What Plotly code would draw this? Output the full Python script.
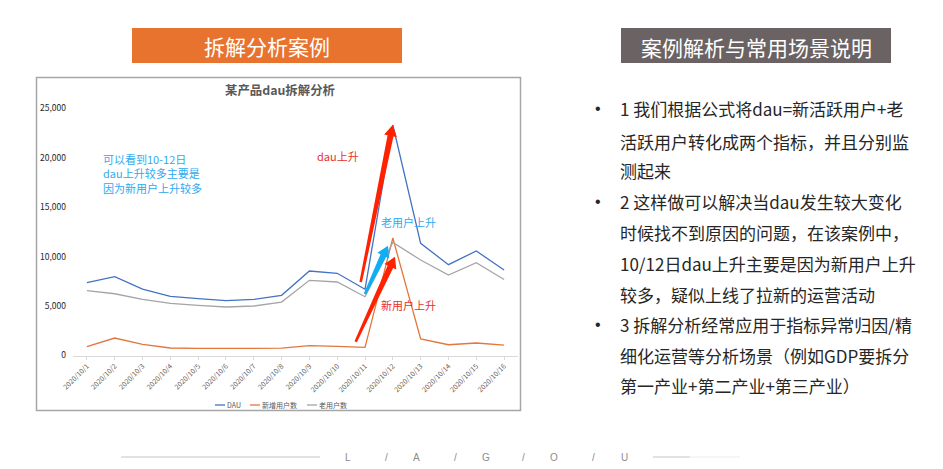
import plotly.graph_objects as go

# the page body keeps its 8px margin, so the figure is laid out inside it
PAGE_W, PAGE_H = 943, 469
OFFSET = 8
W, H = PAGE_W - OFFSET, PAGE_H - OFFSET
CJK = "Noto Sans CJK SC"

dates = ['2020/10/1', '2020/10/2', '2020/10/3', '2020/10/4', '2020/10/5', '2020/10/6', '2020/10/7', '2020/10/8',
         '2020/10/9', '2020/10/10', '2020/10/11', '2020/10/12', '2020/10/13', '2020/10/14', '2020/10/15', '2020/10/16']
dau = [7370, 7980, 6730, 5990, 5750, 5550, 5680, 6090, 8550, 8320, 6700, 23330, 11350, 9190, 10580, 8650]
new_users = [890, 1770, 1130, 760, 730, 700, 715, 740, 990, 930, 830, 11890, 1670, 1090, 1265, 1060]
old_users = [6560, 6250, 5690, 5280, 5080, 4910, 5010, 5410, 7610, 7440, 5950, 11440, 9670, 8150, 9390, 7690]
y_ticks = [0, 5000, 10000, 15000, 20000, 25000]

DAU_COLOR, NEW_COLOR, OLD_COLOR = '#4472c4', '#e2763c', '#a5a5a5'

bullets = [
    ("1 我们根据公式将dau=新活跃用户+老", 108, True),
    ("活跃用户转化成两个指标，并且分别监", 141, False),
    ("测起来", 170, False),
    ("2 这样做可以解决当dau发生较大变化", 201, True),
    ("时候找不到原因的问题，在该案例中，", 232, False),
    ("10/12日dau上升主要是因为新用户上升", 263, False),
    ("较多，疑似上线了拉新的运营活动", 294, False),
    ("3 拆解分析经常应用于指标异常归因/精", 324, True),
    ("细化运营等分析场景（例如GDP要拆分", 355, False),
    ("第一产业+第二产业+第三产业）", 385, False),
]
footer_letters = [("L", 348), ("/", 386), ("A", 416), ("/", 455), ("G", 486), ("/", 523), ("O", 554), ("/", 593), ("U", 624)]
legend_items = [("DAU", DAU_COLOR, 215), ("新增用户数", NEW_COLOR, 250), ("老用户数", OLD_COLOR, 307)]


def px(x):
    return (x - OFFSET) / W


def py(y):
    return 1 - (y - OFFSET) / H


def rect(x0, y0, x1, y1, **kw):
    return dict(type='rect', xref='paper', yref='paper', x0=px(x0), x1=px(x1), y0=py(y0), y1=py(y1), **kw)


def hline(x0, x1, y, color, width=1):
    return dict(type='line', xref='paper', yref='paper', x0=px(x0), x1=px(x1), y0=py(y), y1=py(y),
                line=dict(color=color, width=width))


def label(text, x, y, size, color, anchor='left', font=CJK):
    return dict(text=text, x=px(x), y=py(y), xref='paper', yref='paper', xanchor=anchor, yanchor='middle',
                showarrow=False, align='left', font=dict(family=font, size=size, color=color))


def wedge_arrow(x0, y0, x1, y1, color, tail=1.3, neck=3.0, head=6.5, head_len=11):
    # tapered arrow, positions in pixels of the page
    dx, dy = x1 - x0, y1 - y0
    length = (dx * dx + dy * dy) ** 0.5
    ux, uy = dx / length, dy / length
    nx, ny = -uy, ux
    bx, by = x1 - ux * head_len, y1 - uy * head_len
    pts = [(x0 + nx * tail, y0 + ny * tail), (bx + nx * neck, by + ny * neck), (bx + nx * head, by + ny * head),
           (x1, y1), (bx - nx * head, by - ny * head), (bx - nx * neck, by - ny * neck),
           (x0 - nx * tail, y0 - ny * tail)]
    path = 'M ' + ' L '.join(f'{px(a):.5f} {py(b):.5f}' for a, b in pts) + ' Z'
    return dict(type='path', xref='paper', yref='paper', path=path, fillcolor=color, line=dict(width=0))


fig = go.Figure()
fig.add_trace(go.Scatter(x=dates, y=dau, mode='lines', name='DAU', line=dict(color=DAU_COLOR, width=1.3)))
fig.add_trace(go.Scatter(x=dates, y=new_users, mode='lines', name='新增用户数', line=dict(color=NEW_COLOR, width=1.3)))
fig.add_trace(go.Scatter(x=dates, y=old_users, mode='lines', name='老用户数', line=dict(color=OLD_COLOR, width=1.3)))

shapes = [
    rect(36.5, 77.5, 520.5, 410.5, line=dict(color='#a6a6a6', width=1.5), fillcolor='white', layer='below'),
    rect(132, 28, 402, 63, line=dict(width=0), fillcolor='#e8732e', layer='below'),
    rect(621, 28, 891, 63, line=dict(width=0), fillcolor='#6b6363', layer='below'),
    hline(121, 320, 457, '#c4c4c4'),
    hline(653, 690, 457, '#c4c4c4'),
    hline(690, 740, 457, '#ececec'),
    wedge_arrow(360.7, 282, 392.7, 125, '#ff2200'),
    wedge_arrow(365, 294, 388, 245.7, '#10aef5'),
    wedge_arrow(355.7, 341.7, 395, 256.7, '#ff2200'),
]

annotations = [
    label('拆解分析案例', 267, 46, 21, 'white', 'center'),
    label('案例解析与常用场景说明', 756, 47, 21, 'white', 'center'),
    label('<b>某产品dau拆解分析</b>', 280, 90, 12.4, '#595959', 'center'),
    label('可以看到10-12日<br>dau上升较多主要是<br>因为新用户上升较多', 101, 173, 11, '#2eaaf0'),
    label('dau上升', 315, 156, 11, '#e8302a'),
    label('老用户上升', 379, 222, 11, '#2eaaf0'),
    label('新用户上升', 379, 305, 11, '#e8302a'),
]
for text, y, has_bullet in bullets:
    annotations.append(label(text, 618, y, 17, '#262626'))
    if has_bullet:
        annotations.append(label('•', 598, y, 16, '#262626', 'center', 'Liberation Sans'))
for letter, x in footer_letters:
    annotations.append(label(letter, x, 457, 10, '#8c8c8c', 'center', 'Liberation Sans'))
for name, color, x in legend_items:
    shapes.append(hline(x, x + 10, 405, color, 1.3))
    annotations.append(label(name, x + 10, 405, 7, '#595959'))

fig.update_layout(
    width=W,
    height=H,
    margin=dict(l=0, r=0, t=0, b=0),
    paper_bgcolor='white',
    plot_bgcolor='rgba(0,0,0,0)',
    showlegend=False,
    font=dict(family=CJK, color='#595959'),
    shapes=shapes,
    annotations=annotations,
)
fig.update_xaxes(
    domain=[px(73), px(518)],
    automargin=False,
    type='category',
    range=[-0.5, 15.5],
    tickangle=-45,
    tickfont=dict(size=7, color='#595959'),
    ticks='outside',
    ticklen=3,
    tickcolor='#d9d9d9',
    showline=True,
    linecolor='#d9d9d9',
    showgrid=False,
    zeroline=False,
)
fig.update_yaxes(
    domain=[py(355.5), py(108.5)],
    automargin=False,
    range=[0, 25000],
    tickvals=y_ticks,
    tickformat=',d',
    tickfont=dict(size=8.5, color='#262626'),
    ticklabelstandoff=6,
    showgrid=False,
    zeroline=False,
    showline=False,
)

fig.write_html("out.html")
